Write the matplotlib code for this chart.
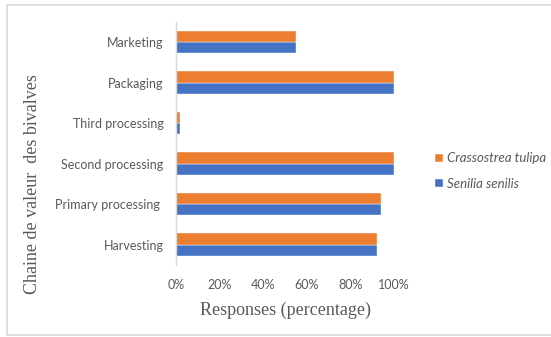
import matplotlib
matplotlib.use("Agg")
import matplotlib.pyplot as plt
from matplotlib.patches import Rectangle
import numpy as np

categories = ["Harvesting", "Primary processing ", "Second processing",
              "Third processing", "Packaging", "Marketing"]
senilia = [92, 94, 100, 2, 100, 55]
crassostrea = [92, 94, 100, 2, 100, 55]
xticks = [0, 20, 40, 60, 80, 100]
xticklabels = ["0%", "20%", "40%", "60%", "80%", "100%"]

BLUE = "#4472C4"
ORANGE = "#ED7D31"
GRAY = "#595959"
SANS = ["Lato", "DejaVu Sans"]
SERIF = ["Liberation Serif", "DejaVu Serif"]

fig = plt.figure(figsize=(5.51, 3.37), dpi=100)
ax = fig.add_axes([176/551, 1-265/337, (394-176)/551, (265-21.7)/337])

y = np.arange(len(categories))
h = 0.278
ax.barh(y - h/2, senilia, height=h, color=BLUE, label="Senilia senilis",
        edgecolor="white", linewidth=0.3)
ax.barh(y + h/2, crassostrea, height=h, color=ORANGE, label="Crassostrea tulipa",
        edgecolor="white", linewidth=0.3)

ax.set_xlim(0, 100)
ax.set_ylim(-0.5, len(categories) - 0.5)
ax.set_yticks(y)
ax.set_yticklabels(categories, fontsize=9, color=GRAY, family=SANS)
ax.set_xticks(xticks)
ax.set_xticklabels(xticklabels, fontsize=9, color=GRAY, family=SANS)
ax.tick_params(axis="y", length=0, pad=9)
ax.tick_params(axis="x", length=0, pad=10)
for s in ["top", "right", "bottom"]:
    ax.spines[s].set_visible(False)
ax.spines["left"].set_color("#d9d9d9")
ax.spines["left"].set_linewidth(1.0)

fig.text((198.6+371.5)/2/551, 1-310/337, "Responses (percentage)", ha="center",
         va="center", fontsize=13, color=GRAY, family=SERIF)
fig.text(33/551, 1-184/337, "Chaine de valeur  des bivalves", ha="center",
         va="center", rotation=90, fontsize=13, color=GRAY, family=SERIF)

handles, labels = ax.get_legend_handles_labels()
leg = fig.legend(handles[::-1], labels[::-1], loc="center left",
                 bbox_to_anchor=(423/551, 1-171/337), frameon=False,
                 prop={"family": SANS, "style": "italic", "size": 9.5},
                 handlelength=0.6, handleheight=0.6, handletextpad=0.35,
                 labelspacing=1.0, labelcolor=GRAY)

fig.patches.append(Rectangle((7/551, 2/337), 1 - 7/551 + 0.01, 1 - 7/337,
                             transform=fig.transFigure, fill=False,
                             edgecolor="#d9d9d9", linewidth=1.2))

fig.savefig("out.png", dpi=100)
